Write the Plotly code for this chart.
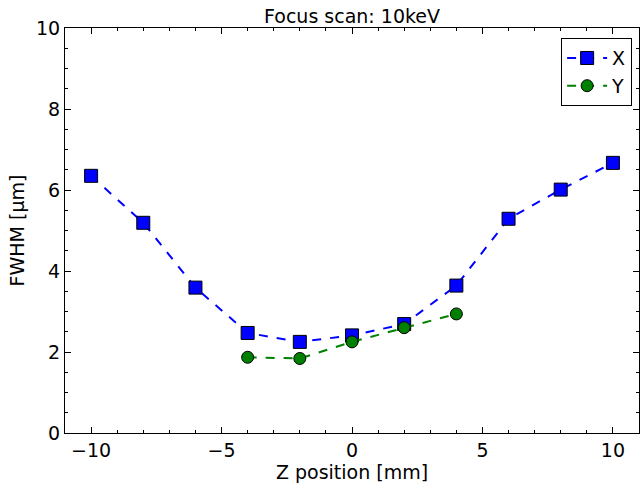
import plotly.graph_objects as go

z_x = [-10, -8, -6, -4, -2, 0, 2, 4, 6, 8, 10]
fwhm_x = [6.35, 5.19, 3.59, 2.47, 2.25, 2.41, 2.69, 3.64, 5.29, 6.01, 6.67]
z_y = [-4, -2, 0, 2, 4]
fwhm_y = [1.87, 1.84, 2.25, 2.60, 2.94]

fig = go.Figure()
fig.add_trace(go.Scatter(
    x=z_x, y=fwhm_x, name="X", mode="lines+markers",
    line=dict(color="#0000ff", width=2, dash="dash"),
    marker=dict(symbol="square", size=13, color="#0000ff",
                line=dict(color="black", width=1)),
))
fig.add_trace(go.Scatter(
    x=z_y, y=fwhm_y, name="Y", mode="lines+markers",
    line=dict(color="#008000", width=2, dash="dash"),
    marker=dict(symbol="circle", size=12, color="#008000",
                line=dict(color="black", width=1)),
))

font = "DejaVu Sans, sans-serif"
fs = 19
axis_common = dict(
    showgrid=False, zeroline=False, showline=True, linecolor="black",
    linewidth=1, mirror="ticks", ticks="inside", ticklen=6, tickwidth=1,
    tickcolor="black", tickfont=dict(family=font, size=fs, color="black"),
)
fig.update_xaxes(
    range=[-11, 11], tickmode="array", tickvals=[-10, -5, 0, 5, 10],
    ticktext=["\u221210", "\u22125", "0", "5", "10"],
    minor=dict(dtick=1, tick0=0, ticks="inside", ticklen=3, tickcolor="black"),
    title=dict(text="Z position [mm]", font=dict(family=font, size=fs, color="black"), standoff=4),
    **axis_common,
)
fig.update_yaxes(
    range=[0, 10], dtick=2,
    minor=dict(dtick=0.5, tick0=0, ticks="inside", ticklen=3, tickcolor="black"),
    title=dict(text="FWHM [\u00b5m]", font=dict(family=font, size=fs, color="black"), standoff=6),
    **axis_common,
)
fig.update_layout(
    width=640, height=486,
    margin=dict(l=65, r=1, t=28, b=53),
    paper_bgcolor="white", plot_bgcolor="white",
    title=dict(text="Focus scan: 10keV", x=0.5, xref="paper", y=0.967, yanchor="middle",
               font=dict(family=font, size=fs, color="black")),
    showlegend=True,
    legend=dict(x=0.988, y=0.975, xanchor="right", yanchor="top",
                bordercolor="black", borderwidth=1, bgcolor="white",
                font=dict(family=font, size=fs, color="black"),
                tracegroupgap=4, itemwidth=40),
)
fig.write_html("out.html")
